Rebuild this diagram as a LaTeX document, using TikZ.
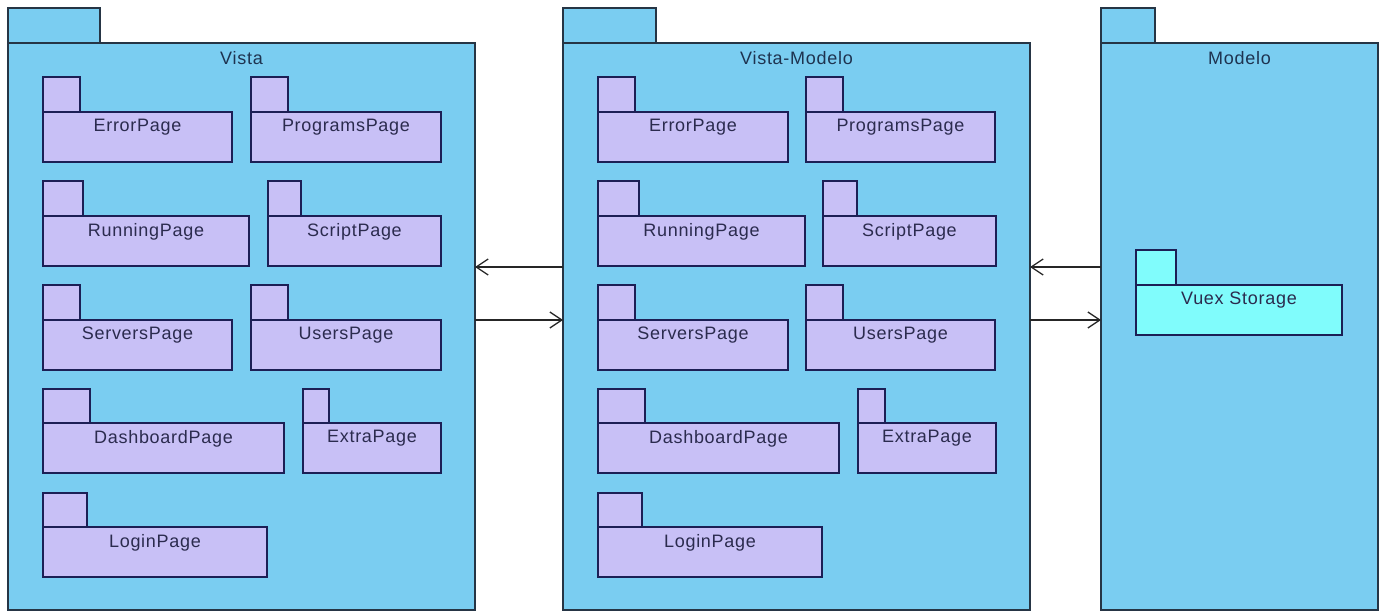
\documentclass[tikz,border=0pt]{standalone}
\usepackage{fontspec}
\setmainfont{Liberation Sans}[LetterSpace=4]
\usetikzlibrary{arrows.meta}
\definecolor{outerfill}{HTML}{7ACDF1}
\definecolor{innerfill}{HTML}{C8C0F6}
\definecolor{vuexfill}{HTML}{80FCFC}
\definecolor{outerline}{HTML}{263545}
\definecolor{innerline}{HTML}{1C1F55}
\definecolor{titletext}{HTML}{1E3350}
\definecolor{innertext}{HTML}{2B2B4E}
\tikzset{
  outerpkg/.style={draw=outerline, fill=outerfill, line width=1.5pt},
  innerpkg/.style={draw=innerline, fill=innerfill, line width=1.8pt},
  vuexpkg/.style={draw=innerline, fill=vuexfill, line width=1.8pt},
  pkgtext/.style={font=\fontsize{18}{21}\selectfont, inner sep=0pt, anchor=north},
  arr/.style={draw=black!85, line width=1.3pt, -{Straight Barb[length=12pt,width=16pt,line width=1.3pt]}}
}
% #1 name, #2 style, #3 x1, #4 tab right, #5 tab top, #6 body top, #7 x2, #8 y2, #9 text
\newcommand{\mypkg}[9]{%
  \node[#2, anchor=north west, minimum width={(#4-#3)*1pt}, minimum height={(#6-#5)*1pt}, inner sep=0pt, outer sep=0pt] (#1-tab) at (#3,#5) {};
  \node[#2, anchor=north west, minimum width={(#7-#3)*1pt}, minimum height={(#8-#6)*1pt}, inner sep=0pt, outer sep=0pt] (#1) at (#3,#6) {};
  \node[pkgtext, text=innertext] (#1-lbl) at ([yshift=-7pt]#1.north) {#9};
}
\begin{document}
\begin{tikzpicture}[x=1pt,y=-1pt]
\useasboundingbox (0,0) rectangle (1382,612);
% outer packages
\node[outerpkg, anchor=north west, minimum width=92pt, minimum height=35pt, inner sep=0pt, outer sep=0pt] (v-tab) at (8,8) {};
\node[outerpkg, anchor=north west, minimum width=467pt, minimum height=567pt, inner sep=0pt, outer sep=0pt] (v) at (8,43) {};
\node[pkgtext, text=titletext] (v-lbl) at ([yshift=-8pt]v.north) {Vista};

\node[outerpkg, anchor=north west, minimum width=93pt, minimum height=35pt, inner sep=0pt, outer sep=0pt] (vm-tab) at (563,8) {};
\node[outerpkg, anchor=north west, minimum width=467pt, minimum height=567pt, inner sep=0pt, outer sep=0pt] (vm) at (563,43) {};
\node[pkgtext, text=titletext] (vm-lbl) at ([yshift=-8pt]vm.north) {Vista-Modelo};

\node[outerpkg, anchor=north west, minimum width=54pt, minimum height=35pt, inner sep=0pt, outer sep=0pt] (m-tab) at (1101,8) {};
\node[outerpkg, anchor=north west, minimum width=277pt, minimum height=567pt, inner sep=0pt, outer sep=0pt] (m) at (1101,43) {};
\node[pkgtext, text=titletext] (m-lbl) at ([yshift=-8pt]m.north) {Modelo};

% Vista contents
\mypkg{v1}{innerpkg}{43}{80}{77}{112}{232}{162}{ErrorPage}
\mypkg{v2}{innerpkg}{251}{288}{77}{112}{441}{162}{ProgramsPage}
\mypkg{v3}{innerpkg}{43}{83}{181}{216}{249}{266}{RunningPage}
\mypkg{v4}{innerpkg}{268}{301}{181}{216}{441}{266}{ScriptPage}
\mypkg{v5}{innerpkg}{43}{80}{285}{320}{232}{370}{ServersPage}
\mypkg{v6}{innerpkg}{251}{288}{285}{320}{441}{370}{UsersPage}
\mypkg{v7}{innerpkg}{43}{90}{389}{423}{284}{473}{DashboardPage}
\mypkg{v8}{innerpkg}{303}{329}{389}{423}{441}{473}{ExtraPage}
\mypkg{v9}{innerpkg}{43}{87}{493}{527}{267}{577}{LoginPage}

% Vista-Modelo contents
\mypkg{w1}{innerpkg}{598}{635}{77}{112}{788}{162}{ErrorPage}
\mypkg{w2}{innerpkg}{806}{843}{77}{112}{995}{162}{ProgramsPage}
\mypkg{w3}{innerpkg}{598}{639}{181}{216}{805}{266}{RunningPage}
\mypkg{w4}{innerpkg}{823}{857}{181}{216}{996}{266}{ScriptPage}
\mypkg{w5}{innerpkg}{598}{635}{285}{320}{788}{370}{ServersPage}
\mypkg{w6}{innerpkg}{806}{843}{285}{320}{995}{370}{UsersPage}
\mypkg{w7}{innerpkg}{598}{645}{389}{423}{839}{473}{DashboardPage}
\mypkg{w8}{innerpkg}{858}{885}{389}{423}{996}{473}{ExtraPage}
\mypkg{w9}{innerpkg}{598}{642}{493}{527}{822}{577}{LoginPage}

% Modelo contents
\mypkg{vx}{vuexpkg}{1136}{1176}{250}{285}{1342}{335}{Vuex Storage}

% connectors
\coordinate (ya) at (0,267);
\coordinate (yb) at (0,320);
\draw[arr] (vm.west |- ya) -- (v.east |- ya);
\draw[arr] (v.east |- yb) -- (vm.west |- yb);
\draw[arr] (m.west |- ya) -- (vm.east |- ya);
\draw[arr] (vm.east |- yb) -- (m.west |- yb);
\end{tikzpicture}
\end{document}
